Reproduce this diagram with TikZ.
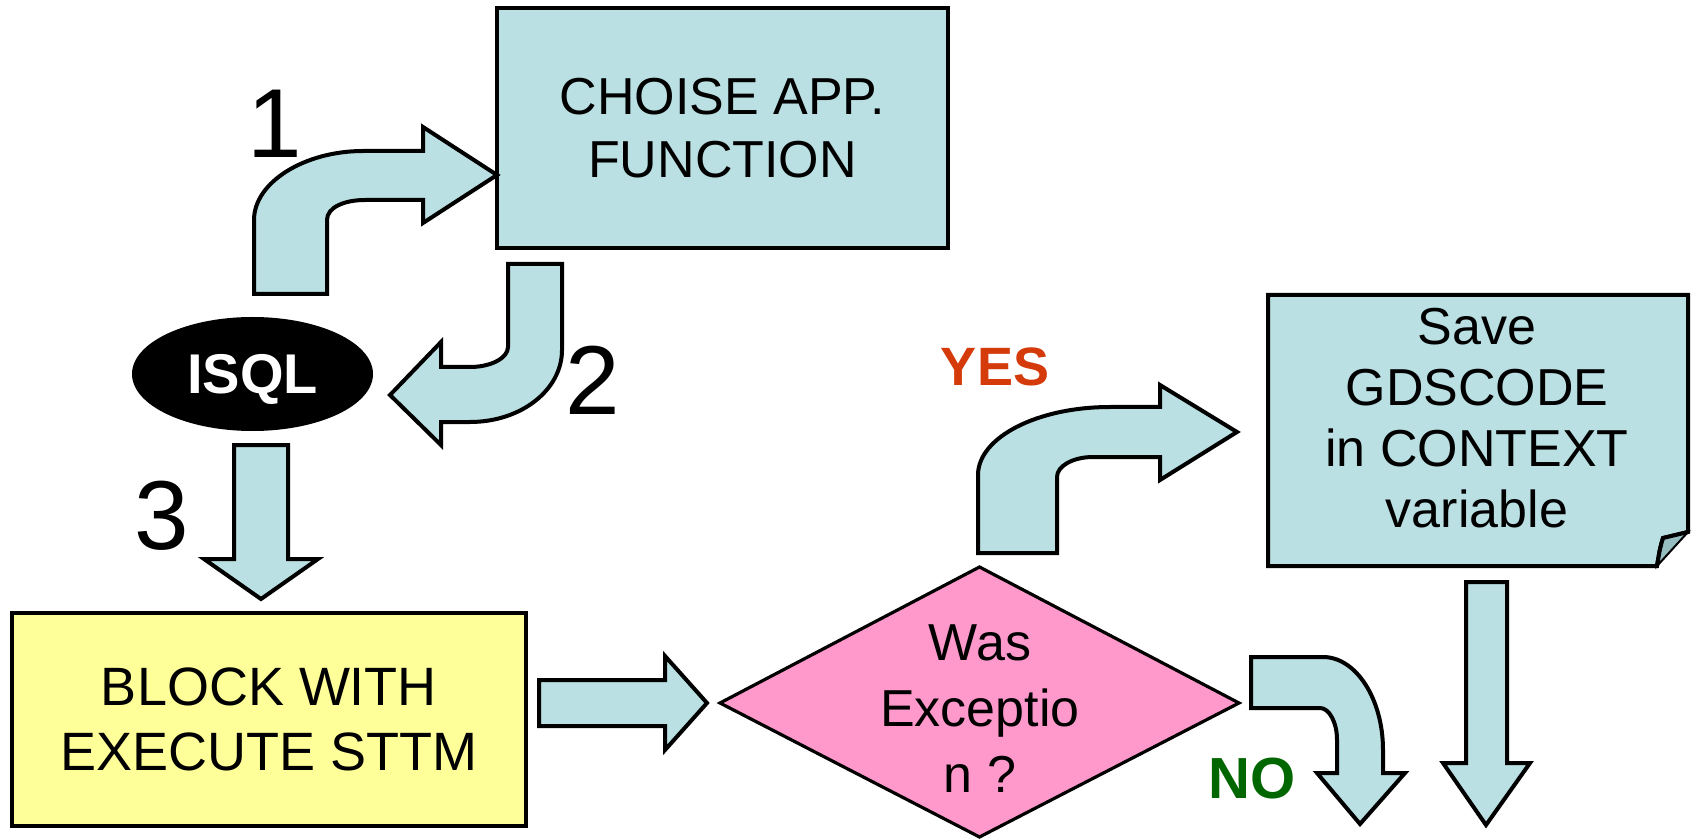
\documentclass[tikz,border=0pt]{standalone}
\usepackage{fontspec}
\setmainfont{Liberation Sans}
\usetikzlibrary{shapes.geometric}

\definecolor{boxteal}{RGB}{186,224,227}
\definecolor{foldteal}{RGB}{150,190,193}
\definecolor{blockyellow}{RGB}{255,255,153}
\definecolor{diapink}{RGB}{255,153,204}
\definecolor{yesred}{RGB}{212,58,10}
\definecolor{nogreen}{RGB}{0,102,0}

\tikzset{
  outline/.style={draw=black, line width=2pt, line join=miter},
  blockarrow/.style={outline, fill=boxteal},
  tealbox/.style={outline, fill=boxteal, rectangle, inner sep=0pt, align=center,
    font=\fontsize{26}{31.5}\selectfont},
  yellowbox/.style={outline, fill=blockyellow, rectangle, inner sep=0pt, align=center,
    font=\fontsize{27}{32.5}\selectfont},
  txt/.style={inner sep=0pt, align=center},
  digit/.style={inner sep=0pt, font=\fontsize{49}{54}\selectfont},
  answer/.style={inner sep=0pt, font=\bfseries\fontsize{27}{30}\selectfont},
}

\begin{document}
\begin{tikzpicture}[x=0.5pt, y=-0.5pt]
\path[use as bounding box] (0,0) rectangle (1691,839);

% --- boxes ---------------------------------------------------------
\node[tealbox, minimum width=225.5pt, minimum height=120pt] (choose) at (722.5,128)
  {CHOISE APP.\\FUNCTION};
\node[yellowbox, minimum width=257pt, minimum height=106.5pt] (block) at (269,719.5)
  {BLOCK WITH\\EXECUTE STTM};
\node[ellipse, fill=black, minimum width=120.5pt, minimum height=57pt, inner sep=0pt,
  text=white, text depth=0pt, font=\bfseries\fontsize{28}{30}\selectfont] (isql)
  at (252.5,374) {ISQL};

% decision diamond
\draw[draw=black, line width=1.6pt, fill=diapink]
  (720,703) -- (979.5,567) -- (1239,703) -- (979.5,837) -- cycle;
\node[txt, font=\fontsize{26}{33}\selectfont] (question) at (980,709)
  {Was\\Exceptio\\n ?};

% note with a curled corner
\draw[outline, fill=boxteal]
  (1268,295) -- (1688,295) -- (1688,532) -- (1663,538)
  .. controls (1660,548) .. (1657,566) -- (1268,566) -- cycle;
\draw[draw=black, line width=1pt, fill=foldteal]
  (1657,566) -- (1663,538) -- (1688,532) -- cycle;
\draw[outline] (1688,532) -- (1663,538) .. controls (1660,548) .. (1657,566);
\node[txt, font=\fontsize{26}{30.5}\selectfont] (save) at (1477,418)
  {Save\\GDSCODE\\in CONTEXT\\variable};

% --- block arrows ---------------------------------------------------
% 1: up and right into the function box
\draw[blockarrow] (254,294) -- (254,220)
  .. controls (254,182) and (305,151) .. (363,151) -- (423,151) -- (423,127)
  -- (497,175) -- (423,223) -- (423,200) -- (365,200)
  .. controls (345,200) and (327,207) .. (327,220) -- (327,294) -- cycle;
% 2: down and back left to ISQL
\draw[blockarrow] (508,264) -- (562,264) -- (562,350)
  .. controls (562,390) and (521,422) .. (470,422) -- (441,422) -- (441,445)
  -- (390,395) -- (441,342) -- (441,367) -- (470,367)
  .. controls (491,367) and (508,358) .. (508,347) -- cycle;
% 3: straight down to the block
\draw[blockarrow] (234,445) -- (288,445) -- (288,559) -- (318,559) -- (261,599)
  -- (204,559) -- (234,559) -- cycle;
% block to decision
\draw[blockarrow] (539,680) -- (665,680) -- (665,656) -- (707,703) -- (665,750)
  -- (665,726) -- (539,726) -- cycle;
% YES branch
\draw[blockarrow] (978,553) -- (978,475)
  .. controls (978,437.5) and (1037,407) .. (1110,407) -- (1160,407) -- (1160,385)
  -- (1237,432) -- (1160,480) -- (1160,457) -- (1093,457)
  .. controls (1073,457) and (1057,466) .. (1057,477) -- (1057,553) -- cycle;
% NO branch
\draw[blockarrow] (1251,657) -- (1323,657)
  .. controls (1356,657) and (1383,699) .. (1383,750) -- (1383,773) -- (1405,773)
  -- (1360,824) -- (1317,773) -- (1337,773) -- (1337,740)
  .. controls (1337,722) and (1329,708) .. (1320,708) -- (1251,708) -- cycle;
% down from the note
\draw[blockarrow] (1466,582) -- (1507,582) -- (1507,763) -- (1530,763) -- (1486,825)
  -- (1443,763) -- (1466,763) -- cycle;

% --- labels ---------------------------------------------------------
\node[digit] (one) at (275,124) {1};
\node[digit] (two) at (593,380) {2};
\node[digit] (three) at (162,516) {3};
\node[answer, text=yesred] (yes) at (995,367) {YES};
\node[answer, text=nogreen, font=\bfseries\fontsize{29}{32}\selectfont] (no) at (1252,779) {NO};
\end{tikzpicture}
\end{document}
